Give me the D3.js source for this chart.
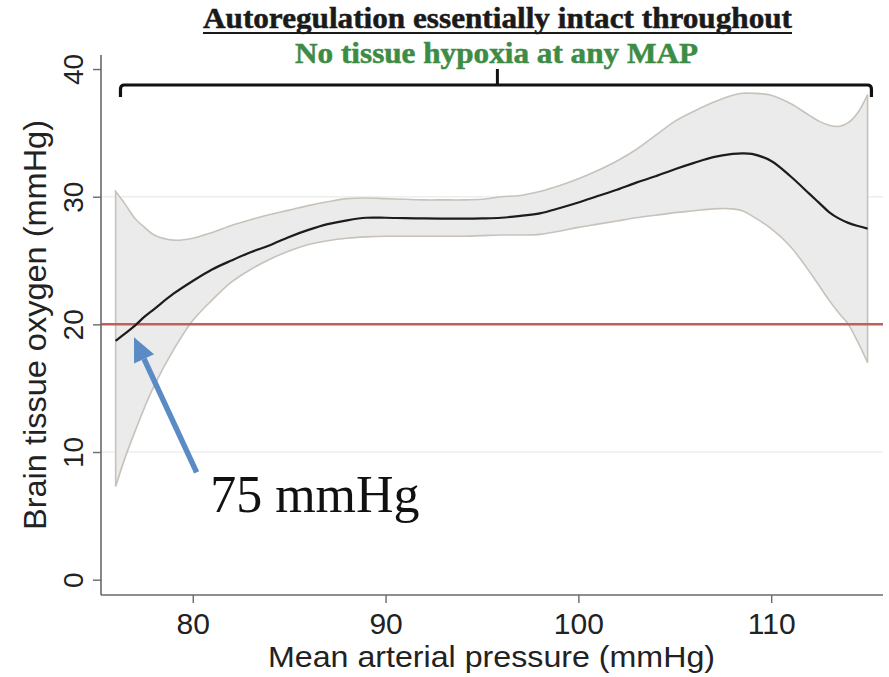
<!DOCTYPE html>
<html>
<head>
<meta charset="utf-8">
<script src="https://cdn.jsdelivr.net/npm/d3@7"></script>
<style>
  html, body { margin: 0; padding: 0; background: #ffffff; }
  svg { display: block; }
</style>
</head>
<body>
<svg id="chart" width="889" height="677"></svg>
<script>
// Mean arterial pressure grid (mmHg)
const map = [76, 76.5, 77, 77.5, 78, 79, 80, 81, 82, 83, 84, 85, 86, 87, 88, 89, 90, 91, 92, 93, 94, 95, 96, 97, 98, 99, 100, 101, 102, 103, 104, 105, 106, 107, 108, 108.5, 109, 110, 111, 112, 112.5, 113, 113.5, 114, 114.5, 115];

// Fitted brain tissue oxygen (mmHg)
const fitted = [18.7, 19.3, 19.9, 20.6, 21.2, 22.4, 23.4, 24.3, 25.0, 25.65, 26.2, 26.85, 27.4, 27.85, 28.15, 28.35, 28.35, 28.32, 28.3, 28.28, 28.28, 28.3, 28.35, 28.5, 28.7, 29.1, 29.55, 30.05, 30.55, 31.1, 31.6, 32.15, 32.65, 33.1, 33.35, 33.4, 33.35, 32.8, 31.6, 30.2, 29.5, 28.8, 28.3, 27.95, 27.7, 27.5];

// Upper confidence limit
const upperCI = [30.4, 29.4, 28.3, 27.6, 27.0, 26.6, 26.75, 27.2, 27.75, 28.2, 28.6, 28.95, 29.3, 29.6, 29.85, 29.9, 29.85, 29.8, 29.75, 29.75, 29.75, 29.8, 30.0, 30.1, 30.4, 30.85, 31.4, 32.05, 32.8, 33.7, 34.8, 35.9, 36.7, 37.4, 37.95, 38.1, 38.1, 37.95, 37.3, 36.35, 35.9, 35.6, 35.5, 35.8, 36.6, 38.0];

// Lower confidence limit
const lowerCI = [7.3, 9.6, 11.6, 13.5, 15.2, 18.0, 20.3, 21.9, 23.3, 24.3, 25.1, 25.75, 26.25, 26.55, 26.75, 26.85, 26.9, 26.9, 26.9, 26.9, 26.9, 26.95, 27.0, 27.0, 27.05, 27.3, 27.6, 27.85, 28.1, 28.35, 28.55, 28.75, 28.9, 29.05, 29.05, 28.9, 28.5, 27.5, 26.1, 24.1, 23.0, 21.9, 20.9, 20.0, 18.6, 17.0];

// Axis ticks
const xTicks = [80, 90, 100, 110];
const yTicks = [0, 10, 20, 30, 40];
const gridTicks = [10, 30];

// Hypoxia threshold (mmHg)
const hypoxiaThreshold = 20;

// Annotation: arrow from the label to the lowest MAP
const arrowFrom = [80.2, 8.4];
const arrowTo = [76.95, 19.0];
const arrowLabel = "75 mmHg";
const arrowLabelPos = [80.9, 5.3];

// Bracket spanning the full MAP range
const bracketRange = [76.25, 115.2];
const bracketMid = 95.8;

const titleText = "Autoregulation essentially intact throughout";
const subtitleText = "No tissue hypoxia at any MAP";
const xTitle = "Mean arterial pressure (mmHg)";
const yTitle = "Brain tissue oxygen (mmHg)";

const svg = d3.select("#chart");
const plot = { left: 101, right: 883, top: 55, bottom: 595 };

const x = d3.scaleLinear().domain([75.24, 115.8]).range([plot.left, plot.right]);
const y = d3.scaleLinear().domain([-1.2, 41.1]).range([plot.bottom, plot.top]);

const rows = map.map((m, i) => ({ m, fit: fitted[i], lo: lowerCI[i], hi: upperCI[i] }));

// Faint horizontal grid
svg.append("g").selectAll("line").data(gridTicks).join("line")
  .attr("x1", plot.left).attr("x2", plot.right)
  .attr("y1", d => y(d)).attr("y2", d => y(d))
  .attr("stroke", "#eeeeee").attr("stroke-width", 1.5);

// Confidence band
const band = d3.area()
  .x(d => x(d.m)).y0(d => y(d.lo)).y1(d => y(d.hi))
  .curve(d3.curveCatmullRom.alpha(0.5));
svg.append("path").datum(rows)
  .attr("d", band)
  .attr("fill", "#ebebeb")
  .attr("stroke", "#c8c2ba")
  .attr("stroke-width", 1.6);

// Hypoxia threshold line
svg.append("line")
  .attr("x1", plot.left).attr("x2", plot.right)
  .attr("y1", y(hypoxiaThreshold)).attr("y2", y(hypoxiaThreshold))
  .attr("stroke", "#c0605c").attr("stroke-width", 2.5);

// Fitted curve
const line = d3.line().x(d => x(d.m)).y(d => y(d.fit)).curve(d3.curveCatmullRom.alpha(0.5));
svg.append("path").datum(rows)
  .attr("d", line)
  .attr("fill", "none")
  .attr("stroke", "#1c1c1c")
  .attr("stroke-width", 2.2);

// Axes
const axisColor = "#6a6a6a";
const gx = svg.append("g")
  .attr("transform", `translate(0,${plot.bottom})`)
  .call(d3.axisBottom(x).tickValues(xTicks).tickSize(8).tickPadding(10).tickFormat(d3.format("d")));
gx.select(".domain").attr("d", `M${plot.left},0H${plot.right}`);
const gy = svg.append("g")
  .attr("transform", `translate(${plot.left},0)`)
  .call(d3.axisLeft(y).tickValues(yTicks).tickSize(8).tickFormat(d3.format("d")));
gy.select(".domain").attr("d", `M0,${plot.top}V${plot.bottom}`);

[gx, gy].forEach(g => {
  g.select(".domain").attr("stroke", axisColor).attr("stroke-width", 1.6);
  g.selectAll(".tick line").attr("stroke", axisColor).attr("stroke-width", 1.4);
  g.selectAll(".tick text")
    .attr("fill", "#222")
    .attr("font-family", "'Liberation Sans', Arial, Helvetica, sans-serif");
});
gx.selectAll(".tick text").attr("font-size", 30);
gy.selectAll(".tick text")
  .attr("font-size", 28)
  .attr("text-anchor", "middle")
  .attr("transform", "rotate(-90)")
  .attr("x", 0)
  .attr("y", -18)
  .attr("dy", 0);

// Axis titles
svg.append("text")
  .attr("x", 491.5).attr("y", 667)
  .attr("text-anchor", "middle")
  .attr("font-family", "'Liberation Sans', Arial, Helvetica, sans-serif")
  .attr("font-size", 29)
  .attr("textLength", 447).attr("lengthAdjust", "spacingAndGlyphs")
  .attr("fill", "#222")
  .text(xTitle);

svg.append("text")
  .attr("transform", "translate(46,325) rotate(-90)")
  .attr("text-anchor", "middle")
  .attr("font-family", "'Liberation Sans', Arial, Helvetica, sans-serif")
  .attr("font-size", 31)
  .attr("textLength", 410).attr("lengthAdjust", "spacingAndGlyphs")
  .attr("fill", "#222")
  .text(yTitle);

// Bracket over the MAP range
const bY = 85, bDrop = 12, bRise = 16, r = 4;
const bx0 = x(bracketRange[0]), bx1 = x(bracketRange[1]), bxm = x(bracketMid);
svg.append("path")
  .attr("d", `M${bx0},${bY + bDrop} V${bY + r} Q${bx0},${bY} ${bx0 + r},${bY} H${bx1 - r} Q${bx1},${bY} ${bx1},${bY + r} V${bY + bDrop}`)
  .attr("fill", "none").attr("stroke", "#111").attr("stroke-width", 3.2);
svg.append("line")
  .attr("x1", bxm).attr("x2", bxm).attr("y1", bY).attr("y2", bY - bRise)
  .attr("stroke", "#111").attr("stroke-width", 3);

// Headings (slight outline gives the heavier condensed look)
const titleW = 589, titleCx = 497.5;
svg.append("text")
  .attr("x", titleCx).attr("y", 28)
  .attr("text-anchor", "middle")
  .attr("font-family", "'Liberation Serif', 'Times New Roman', serif")
  .attr("font-weight", "bold")
  .attr("font-size", 29)
  .attr("textLength", titleW).attr("lengthAdjust", "spacingAndGlyphs")
  .attr("fill", "#1a1a1a")
  .attr("stroke", "#1a1a1a").attr("stroke-width", 0.5)
  .text(titleText);
svg.append("line")
  .attr("x1", titleCx - titleW / 2).attr("x2", titleCx + titleW / 2)
  .attr("y1", 33).attr("y2", 33)
  .attr("stroke", "#1a1a1a").attr("stroke-width", 2);

svg.append("text")
  .attr("x", 496.5).attr("y", 63)
  .attr("text-anchor", "middle")
  .attr("font-family", "'Liberation Serif', 'Times New Roman', serif")
  .attr("font-weight", "bold")
  .attr("font-size", 29)
  .attr("textLength", 403).attr("lengthAdjust", "spacingAndGlyphs")
  .attr("fill", "#3d8c45")
  .attr("stroke", "#3d8c45").attr("stroke-width", 0.5)
  .text(subtitleText);

// Arrow annotation
const ax0 = x(arrowFrom[0]), ay0 = y(arrowFrom[1]);
const ax1 = x(arrowTo[0]), ay1 = y(arrowTo[1]);
const ang = Math.atan2(ay1 - ay0, ax1 - ax0);
const headLen = 24, headHalf = 11;
const hx = ax1 - headLen * Math.cos(ang), hy = ay1 - headLen * Math.sin(ang);
const arrowColor = "#5a8bc4";
svg.append("line")
  .attr("x1", ax0).attr("y1", ay0).attr("x2", hx).attr("y2", hy)
  .attr("stroke", arrowColor).attr("stroke-width", 5.5);
svg.append("path")
  .attr("d", `M${ax1},${ay1} L${hx + headHalf * Math.sin(ang)},${hy - headHalf * Math.cos(ang)} L${hx - headHalf * Math.sin(ang)},${hy + headHalf * Math.cos(ang)} Z`)
  .attr("fill", arrowColor);

svg.append("text")
  .attr("x", x(arrowLabelPos[0])).attr("y", y(arrowLabelPos[1]))
  .attr("font-family", "'Liberation Serif', 'Times New Roman', serif")
  .attr("font-size", 52)
  .attr("fill", "#111")
  .text(arrowLabel);
</script>
</body>
</html>
